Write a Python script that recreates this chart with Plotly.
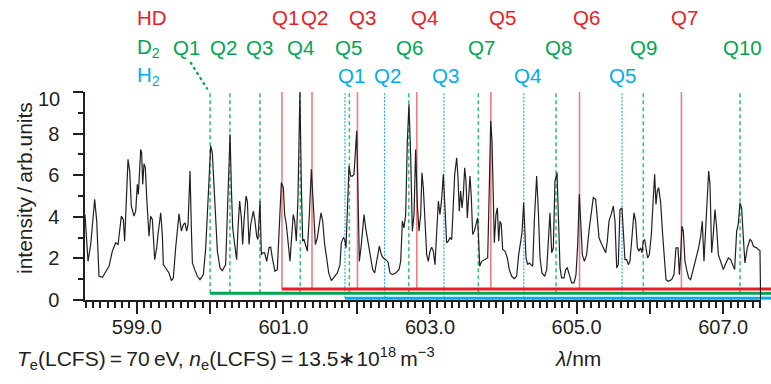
import plotly.graph_objects as go

# ---------------- spectrum (wavelength in nm, intensity in arb. units) ----------------
wavelength_nm = [
    598.293, 598.334, 598.371, 598.425, 598.453, 598.484, 598.530, 598.575, 598.621, 598.666,
    598.712, 598.744, 598.789, 598.816, 598.834, 598.880, 598.903, 598.925, 598.962, 598.985,
    599.007, 599.021, 599.053, 599.066, 599.080, 599.098, 599.116, 599.135, 599.166, 599.189,
    599.212, 599.244, 599.271, 599.289, 599.326, 599.348, 599.362, 599.394, 599.439, 599.471,
    599.498, 599.530, 599.576, 599.608, 599.635, 599.658, 599.680, 599.699, 599.726, 599.744,
    599.758, 599.790, 599.826, 599.862, 599.908, 599.940, 599.971, 600.008, 600.030, 600.053,
    600.076, 600.099, 600.135, 600.167, 600.212, 600.244, 600.272, 600.290, 600.308, 600.335,
    600.362, 600.381, 600.403, 600.426, 600.444, 600.462, 600.490, 600.508, 600.531, 600.554,
    600.590, 600.613, 600.635, 600.653, 600.681, 600.699, 600.717, 600.744, 600.772, 600.804,
    600.826, 600.849, 600.885, 600.917, 600.945, 600.972, 600.999, 601.017, 601.040, 601.063,
    601.090, 601.108, 601.135, 601.154, 601.176, 601.199, 601.215, 601.225, 601.245, 601.263,
    601.281, 601.304, 601.326, 601.354, 601.381, 601.408, 601.436, 601.463, 601.490, 601.513,
    601.536, 601.563, 601.590, 601.618, 601.654, 601.690, 601.736, 601.772, 601.790, 601.818,
    601.836, 601.854, 601.872, 601.895, 601.918, 601.940, 601.963, 601.977, 602.000, 602.018,
    602.036, 602.063, 602.100, 602.122, 602.145, 602.168, 602.191, 602.218, 602.245, 602.272,
    602.309, 602.336, 602.363, 602.395, 602.427, 602.454, 602.486, 602.532, 602.577, 602.600,
    602.623, 602.645, 602.668, 602.691, 602.713, 602.736, 602.759, 602.782, 602.804, 602.827,
    602.850, 602.873, 602.890, 602.909, 602.932, 602.955, 602.977, 603.000, 603.023, 603.045,
    603.068, 603.091, 603.114, 603.136, 603.159, 603.182, 603.205, 603.227, 603.250, 603.273,
    603.296, 603.318, 603.337, 603.364, 603.382, 603.400, 603.418, 603.437, 603.455, 603.473,
    603.491, 603.509, 603.528, 603.546, 603.564, 603.582, 603.605, 603.628, 603.650, 603.664,
    603.678, 603.705, 603.750, 603.787, 603.809, 603.828, 603.846, 603.864, 603.878, 603.900,
    603.919, 603.937, 603.955, 603.973, 603.991, 604.023, 604.055, 604.082, 604.114, 604.151,
    604.182, 604.210, 604.237, 604.255, 604.278, 604.296, 604.310, 604.332, 604.355, 604.378,
    604.401, 604.423, 604.455, 604.478, 604.501, 604.528, 604.564, 604.592, 604.614, 604.637,
    604.660, 604.683, 604.705, 604.733, 604.751, 604.774, 604.796, 604.828, 604.851, 604.874,
    604.901, 604.933, 604.965, 604.992, 605.015, 605.037, 605.056, 605.078, 605.106, 605.137,
    605.174, 605.206, 605.228, 605.260, 605.283, 605.306, 605.333, 605.365, 605.397, 605.419,
    605.442, 605.478, 605.501, 605.524, 605.547, 605.569, 605.592, 605.619, 605.638, 605.660,
    605.683, 605.706, 605.728, 605.756, 605.783, 605.806, 605.829, 605.851, 605.874, 605.892,
    605.910, 605.929, 605.947, 605.969, 605.992, 606.020, 606.047, 606.065, 606.083, 606.101,
    606.120, 606.147, 606.174, 606.197, 606.220, 606.251, 606.297, 606.329, 606.356, 606.384,
    606.402, 606.420, 606.438, 606.456, 606.479, 606.502, 606.529, 606.556, 606.583, 606.611,
    606.638, 606.665, 606.693, 606.715, 606.738, 606.761, 606.784, 606.802, 606.820, 606.843,
    606.865, 606.888, 606.911, 606.934, 606.965, 607.002, 607.038, 607.070, 607.102, 607.129,
    607.156, 607.184, 607.206, 607.229, 607.252, 607.275, 607.297, 607.329, 607.366, 607.388,
    607.411, 607.434, 607.456, 607.479, 607.502, 607.511,
]
intensity = [
    4.11, 1.86, 2.67, 4.84, 3.79, 1.14, 1.09, 1.38, 1.62, 2.35,
    2.75, 2.67, 4.03, 3.87, 2.83, 6.76, 6.20, 4.51, 4.03, 4.27,
    5.56, 5.08, 7.24, 7.08, 5.56, 6.55, 6.36, 4.92, 3.07, 4.03,
    3.87, 1.94, 2.51, 3.15, 4.19, 3.15, 1.70, 1.54, 1.30, 0.93,
    1.06, 2.51, 4.14, 3.31, 3.63, 3.71, 3.31, 3.63, 6.20, 3.47,
    1.78, 1.46, 1.14, 0.98, 1.22, 2.51, 4.76, 7.41, 7.08, 5.56,
    3.79, 2.35, 1.54, 1.41, 1.70, 5.08, 7.97, 5.40, 3.47, 2.67,
    1.94, 3.47, 4.76, 3.95, 2.67, 3.79, 5.00, 4.76, 2.67, 3.63,
    4.27, 3.79, 3.07, 2.91, 4.76, 2.18, 2.27, 2.27, 1.86, 2.51,
    2.54, 2.02, 1.38, 1.46, 3.31, 5.64, 5.40, 4.11, 3.63, 2.83,
    1.86, 2.83, 4.11, 3.79, 2.83, 4.92, 9.60, 10.00, 5.40, 2.83,
    2.91, 2.67, 2.35, 4.11, 6.28, 4.59, 2.67, 2.99, 3.79, 4.19,
    3.79, 2.67, 2.02, 1.30, 0.93, 1.09, 1.30, 1.70, 2.75, 2.99,
    2.91, 2.51, 3.95, 6.44, 5.96, 5.96, 6.04, 7.00, 8.13, 5.08,
    1.86, 2.67, 4.11, 3.47, 2.99, 2.51, 2.02, 1.46, 1.30, 1.86,
    2.59, 2.18, 2.02, 1.94, 1.83, 1.30, 1.22, 1.30, 1.46, 1.86,
    3.79, 3.47, 4.11, 7.65, 9.41, 7.00, 3.31, 4.11, 7.24, 4.59,
    3.31, 4.11, 6.12, 5.40, 3.47, 2.18, 1.86, 2.35, 2.54, 2.35,
    1.70, 3.47, 4.76, 4.11, 4.84, 6.04, 4.59, 2.75, 2.83, 2.99,
    2.91, 4.43, 6.04, 6.84, 5.88, 4.27, 5.24, 4.43, 5.08, 6.36,
    5.72, 3.95, 4.92, 5.96, 4.92, 3.15, 3.31, 3.63, 3.95, 2.83,
    1.62, 1.86, 1.94, 2.02, 5.40, 8.61, 7.65, 5.40, 2.75, 4.11,
    4.43, 2.83, 3.79, 3.63, 2.43, 2.35, 2.02, 1.46, 1.14, 1.03,
    1.14, 2.18, 2.99, 3.23, 4.67, 3.15, 2.02, 1.70, 1.78, 1.70,
    1.62, 3.79, 5.96, 4.27, 2.02, 1.30, 1.14, 1.46, 2.67, 4.19,
    2.27, 2.51, 5.72, 6.12, 4.11, 1.54, 1.06, 1.06, 1.46, 1.54,
    1.22, 0.82, 0.82, 1.22, 2.67, 5.08, 3.79, 2.18, 1.86, 2.18,
    3.47, 4.43, 4.92, 4.84, 3.79, 2.99, 2.75, 2.51, 2.27, 2.83,
    3.79, 4.19, 4.51, 3.79, 1.54, 1.70, 4.35, 4.43, 2.99, 1.94,
    1.94, 1.70, 1.86, 3.31, 4.19, 3.79, 2.51, 2.35, 2.51, 2.27,
    2.83, 2.91, 2.51, 2.02, 2.18, 3.15, 4.92, 6.04, 4.59, 5.24,
    5.40, 4.67, 3.15, 1.78, 0.98, 0.90, 0.98, 1.22, 2.51, 2.51,
    1.22, 2.18, 3.55, 3.31, 1.86, 1.46, 1.06, 0.98, 1.38, 1.78,
    2.10, 2.51, 3.07, 3.79, 1.86, 3.47, 5.40, 6.20, 5.56, 2.27,
    3.15, 4.35, 3.47, 2.18, 1.86, 1.46, 1.78, 2.02, 1.94, 1.70,
    1.46, 3.31, 3.63, 4.67, 4.43, 2.99, 1.78, 2.51, 2.91, 2.83,
    2.59, 2.54, 2.51, 2.43, 2.38, 0.00,
]

# ---------------- Fulcher-band Q-branch line positions (nm) ----------------
hd_lines = [600.98, 601.39, 602.01, 602.82, 603.83, 605.04, 606.43]
hd_names = ["Q1", "Q2", "Q3", "Q4", "Q5", "Q6", "Q7"]
d2_lines = [600.00, 600.27, 600.68, 601.23, 601.90, 602.71, 603.66, 604.72, 605.91, 607.23]
d2_names = ["Q1", "Q2", "Q3", "Q4", "Q5", "Q6", "Q7", "Q8", "Q9", "Q10"]
h2_lines = [601.84, 602.38, 603.19, 604.28, 605.62]
h2_names = ["Q1", "Q2", "Q3", "Q4", "Q5"]

# ---------------- axis ticks ----------------
# integer-nm ticks are long; only odd ones carry a label
x_unlabelled = ["600.0", "602.0", "604.0", "606.0"]
y_unlabelled = ["10"]   # drawn separately, set a little below its tick

X_RANGE = [598.293, 607.516]
Y_RANGE = [0, 10]
FONT = "Liberation Sans, Arial, Helvetica, sans-serif"
INK = "#231F20"

W, H = 771, 384
M = dict(l=85, r=10, t=92, b=84)
plot_w = W - M["l"] - M["r"]

species = [
    dict(label="HD", lines=hd_lines, names=hd_names,
         shifts=[4, 3, 5, 8, 12, 7, 3],
         text="#ED1C24", bar="#ED1C24", vline="#F47C7E", dash="solid", vwidth=1.6,
         level=0.53, row=1.358),
    dict(label="D<sub>2</sub>", lines=d2_lines, names=d2_names,
         shifts=[-24, -6, 0, 0, -1, 1, 3, 2, 0, 2],
         text="#00A651", bar="#00A651", vline="#3DBF78", dash="4px,3px", vwidth=1.6,
         level=0.32, row=1.212),
    dict(label="H<sub>2</sub>", lines=h2_lines, names=h2_names,
         shifts=[7, 3, 2, 4, 0],
         text="#00AEEF", bar="#00AEEF", vline="#29ABE2", dash="2px,1.5px", vwidth=1.2,
         level=0.09, row=1.079),
]

fig = go.Figure()
shapes = []
annotations = []

# vertical marker lines for each species, from its range bar up to the top
for sp in species:
    xs, ys = [], []
    for wl in sp["lines"]:
        xs += [wl, wl, None]
        ys += [sp["level"], Y_RANGE[1], None]
    fig.add_trace(go.Scatter(x=xs, y=ys, mode="lines", hoverinfo="skip",
                             line=dict(color=sp["vline"], width=sp["vwidth"], dash=sp["dash"])))

# horizontal range bars starting at each species' first line, running past the axis end
for sp in species:
    fig.add_trace(go.Scatter(x=[sp["lines"][0], X_RANGE[1]], y=[sp["level"], sp["level"]],
                             mode="lines", hoverinfo="skip",
                             line=dict(color=sp["bar"], width=3)))
    shapes.append(dict(type="line", xref="paper", yref="y", x0=1, x1=1 + 12 / plot_w,
                       y0=sp["level"], y1=sp["level"], line=dict(color=sp["bar"], width=3)))

# measured spectrum
fig.add_trace(go.Scatter(x=wavelength_nm, y=intensity, mode="lines",
                         line=dict(color=INK, width=1.2), hoverinfo="skip"))

# species names and line labels above the plot
for sp in species:
    annotations.append(dict(xref="paper", yref="paper", x=0, xshift=50, y=sp["row"],
                            text=sp["label"], showarrow=False, xanchor="left", yanchor="middle",
                            font=dict(family=FONT, size=20.5, color=sp["text"])))
    for wl, name, dx in zip(sp["lines"], sp["names"], sp["shifts"]):
        annotations.append(dict(xref="x", yref="paper", x=wl, xshift=dx, y=sp["row"],
                                text=name, showarrow=False, xanchor="center", yanchor="middle",
                                font=dict(family=FONT, size=20.5, color=sp["text"])))

# dotted leader from the D2 Q1 label down to its line
shapes.append(dict(type="line", xref="x", yref="paper",
                   x0=d2_lines[0] - 0.27, y0=1.144, x1=d2_lines[0] - 0.035, y1=1.013,
                   line=dict(color="#00A651", width=2.2, dash="dot")))

# top y tick label
annotations.append(dict(xref="paper", yref="y", x=0, xshift=-23, y=Y_RANGE[1], yshift=-7,
                        text="10", showarrow=False, xanchor="right", yanchor="middle",
                        font=dict(family=FONT, size=20, color=INK)))

# y-axis title
annotations.append(dict(xref="paper", yref="paper", x=0, xshift=-61, y=0.5, yshift=8,
                        text="intensity\u2009/\u2009arb.units", textangle=-90, showarrow=False,
                        xanchor="center", yanchor="middle",
                        font=dict(family=FONT, size=21, color=INK)))

# plasma conditions and x-axis title
annotations.append(dict(xref="paper", yref="paper", x=0, xshift=-70, y=0, yshift=-58,
                        text="<i>T</i><sub>e</sub>(LCFS)\u2009=\u200970\u2009eV, "
                             "<i>n</i><sub>e</sub>(LCFS)\u2009=\u200913.5\u221710<sup>18</sup>"
                             "\u2009m<sup>\u22123</sup>",
                        showarrow=False, xanchor="left", yanchor="middle",
                        font=dict(family=FONT, size=21, color=INK)))
annotations.append(dict(xref="paper", yref="paper", x=0, xshift=493, y=0, yshift=-58,
                        text="<i>\u03bb</i>/nm", showarrow=False, xanchor="center",
                        yanchor="middle", font=dict(family=FONT, size=21, color=INK)))

tick_font = dict(family=FONT, size=20, color=INK)
fig.update_layout(
    width=W, height=H, margin=dict(l=M["l"], r=M["r"], t=M["t"], b=M["b"], pad=0),
    paper_bgcolor="white", plot_bgcolor="white", showlegend=False,
    shapes=shapes, annotations=annotations,
    font=dict(family=FONT, size=20, color=INK),
    xaxis=dict(range=X_RANGE, showgrid=False, zeroline=False,
               showline=True, linecolor=INK, linewidth=1.5,
               tickmode="linear", tick0=599, dtick=1, tickformat=".1f",
               labelalias={t: "" for t in x_unlabelled},
               ticks="outside", ticklen=12, tickwidth=1.6, tickcolor=INK,
               tickfont=tick_font, ticklabelstandoff=-4,
               minor=dict(dtick=0.1, ticks="outside", ticklen=6,
                          tickwidth=1.5, tickcolor=INK)),
    yaxis=dict(range=Y_RANGE, showgrid=False, zeroline=False,
               showline=True, linecolor=INK, linewidth=1.5,
               tickmode="linear", tick0=0, dtick=2,
               labelalias={t: "" for t in y_unlabelled},
               ticks="outside", ticklen=10, tickwidth=1.6, tickcolor=INK,
               tickfont=tick_font, ticklabelstandoff=10,
               minor=dict(dtick=1, ticks="outside", ticklen=5,
                          tickwidth=1.5, tickcolor=INK)),
)

fig.write_html("out.html")
